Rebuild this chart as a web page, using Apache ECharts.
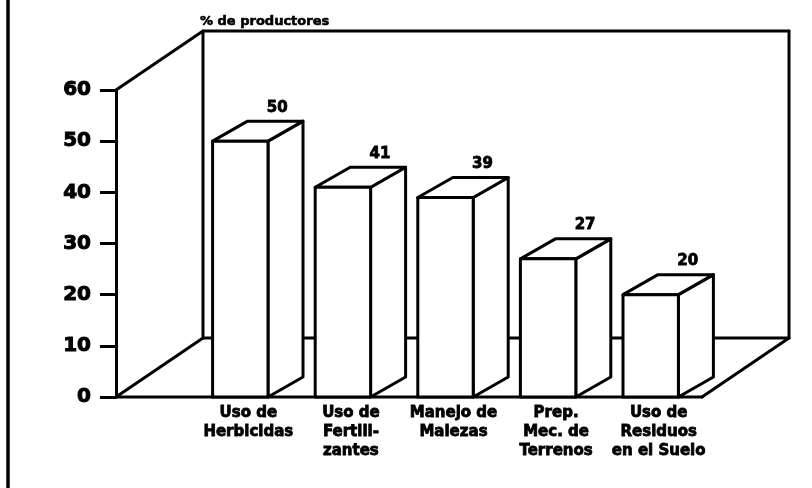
<!DOCTYPE html>
<html>
<head>
<meta charset="utf-8">
<script src="https://cdn.jsdelivr.net/npm/echarts@6/dist/echarts.min.js"></script>
<style>
  html, body { margin: 0; padding: 0; background: #fff; }
  #chart { width: 812px; height: 488px; }
</style>
</head>
<body>
<div id="chart"></div>
<script>
  const categories = ['Uso de\nHerbicidas', 'Uso de\nFertili-\nzantes', 'Manejo de\nMalezas', 'Prep.\nMec. de\nTerrenos', 'Uso de\nResiduos\nen el Suelo'];
  const values = [50, 41, 39, 27, 20];
  const yTicks = { min: 0, max: 60, step: 10 };

  const chart = echarts.init(document.getElementById('chart'));
  const FONT = '"DejaVu Sans", "Liberation Sans", sans-serif';
  const WALL = [87, -59];   // depth of the floor / walls
  const BOX = [35, -20];    // depth of each bar
  const AXIS_OFFSET = 73;

  const line = (x1, y1, x2, y2) => ({
    type: 'line',
    shape: { x1: x1, y1: y1, x2: x2, y2: y2 },
    style: { stroke: '#000', lineWidth: 3, lineCap: 'round' }
  });

  function renderFrame(params, api) {
    const cs = params.coordSys;
    const fl = cs.x - AXIS_OFFSET, fr = cs.x + cs.width;
    const top = cs.y, bot = cs.y + cs.height;
    const bl = fl + WALL[0], br = fr + WALL[0];
    return {
      type: 'group',
      children: [
        line(fl, top, bl, top + WALL[1]),
        line(fl, bot, bl, bot + WALL[1]),
        line(bl, top + WALL[1], bl, bot + WALL[1]),
        line(bl, top + WALL[1], br, top + WALL[1]),
        line(br, top + WALL[1], br, bot + WALL[1]),
        line(bl, bot + WALL[1], br, bot + WALL[1]),
        line(fl, bot, fr, bot),
        line(fr, bot, br, bot + WALL[1])
      ]
    };
  }

  function renderBar(params, api) {
    const i = api.value(0), v = api.value(1);
    const base = api.coord([i, 0]);
    const tp = api.coord([i, v]);
    const bw = api.size([1, 0])[0] * 0.54;
    const x0 = base[0] - bw / 2, x1 = x0 + bw;
    const yb = base[1], yt = tp[1];
    const dx = BOX[0], dy = BOX[1];
    const st = { fill: '#fff', stroke: '#000', lineWidth: 3, lineJoin: 'round' };
    return {
      type: 'group',
      children: [
        { type: 'polygon', shape: { points: [[x1, yt], [x1 + dx, yt + dy], [x1 + dx, yb + dy], [x1, yb]] }, style: st },
        { type: 'polygon', shape: { points: [[x0, yt], [x0 + dx, yt + dy], [x1 + dx, yt + dy], [x1, yt]] }, style: st },
        { type: 'polygon', shape: { points: [[x0, yt], [x1, yt], [x1, yb], [x0, yb]] }, style: st },
        {
          type: 'text',
          style: {
            text: String(v), x: (x0 + x1) / 2 + dx + 2, y: yt + dy - 6,
            align: 'center', verticalAlign: 'bottom',
            font: 'bold 15px ' + FONT, fill: '#000',
            stroke: '#000', lineWidth: 0.8
          }
        }
      ]
    };
  }

  const option = {
    backgroundColor: '#fff',
    animation: false,
    title: {
      text: '% de productores',
      left: 195,
      top: 10,
      textStyle: { fontFamily: FONT, fontSize: 13, fontWeight: 'bold', color: '#000', textBorderColor: '#000', textBorderWidth: 0.6 }
    },
    graphic: [
      { type: 'line', shape: { x1: 8, y1: 0, x2: 8, y2: 488 }, style: { stroke: '#000', lineWidth: 3.5 } }
    ],
    grid: { left: 189, right: 110, top: 90, bottom: 91 },
    xAxis: {
      type: 'category',
      data: categories,
      axisLine: { show: false },
      axisTick: { show: false },
      axisLabel: {
        interval: 0,
        margin: 7,
        padding: [0, 0, 0, 16],
        color: '#000',
        fontFamily: FONT,
        fontSize: 15,
        fontWeight: 'bold',
        lineHeight: 19,
        textBorderColor: '#000',
        textBorderWidth: 0.8
      }
    },
    yAxis: {
      type: 'value',
      min: yTicks.min,
      max: yTicks.max,
      interval: yTicks.step,
      offset: AXIS_OFFSET,
      splitLine: { show: false },
      axisLine: { show: true, lineStyle: { color: '#000', width: 3 } },
      axisTick: { show: true, length: 16, lineStyle: { color: '#000', width: 3 } },
      axisLabel: {
        color: '#000', fontFamily: FONT, fontSize: 20, fontWeight: 'bold', margin: 25,
        textBorderColor: '#000', textBorderWidth: 1
      }
    },
    series: [
      { type: 'custom', z: 1, renderItem: renderFrame, data: [[0, 0]], silent: true },
      { type: 'custom', z: 2, renderItem: renderBar, data: values.map((v, i) => [i, v]) }
    ]
  };
  chart.setOption(option);
</script>
</body>
</html>
